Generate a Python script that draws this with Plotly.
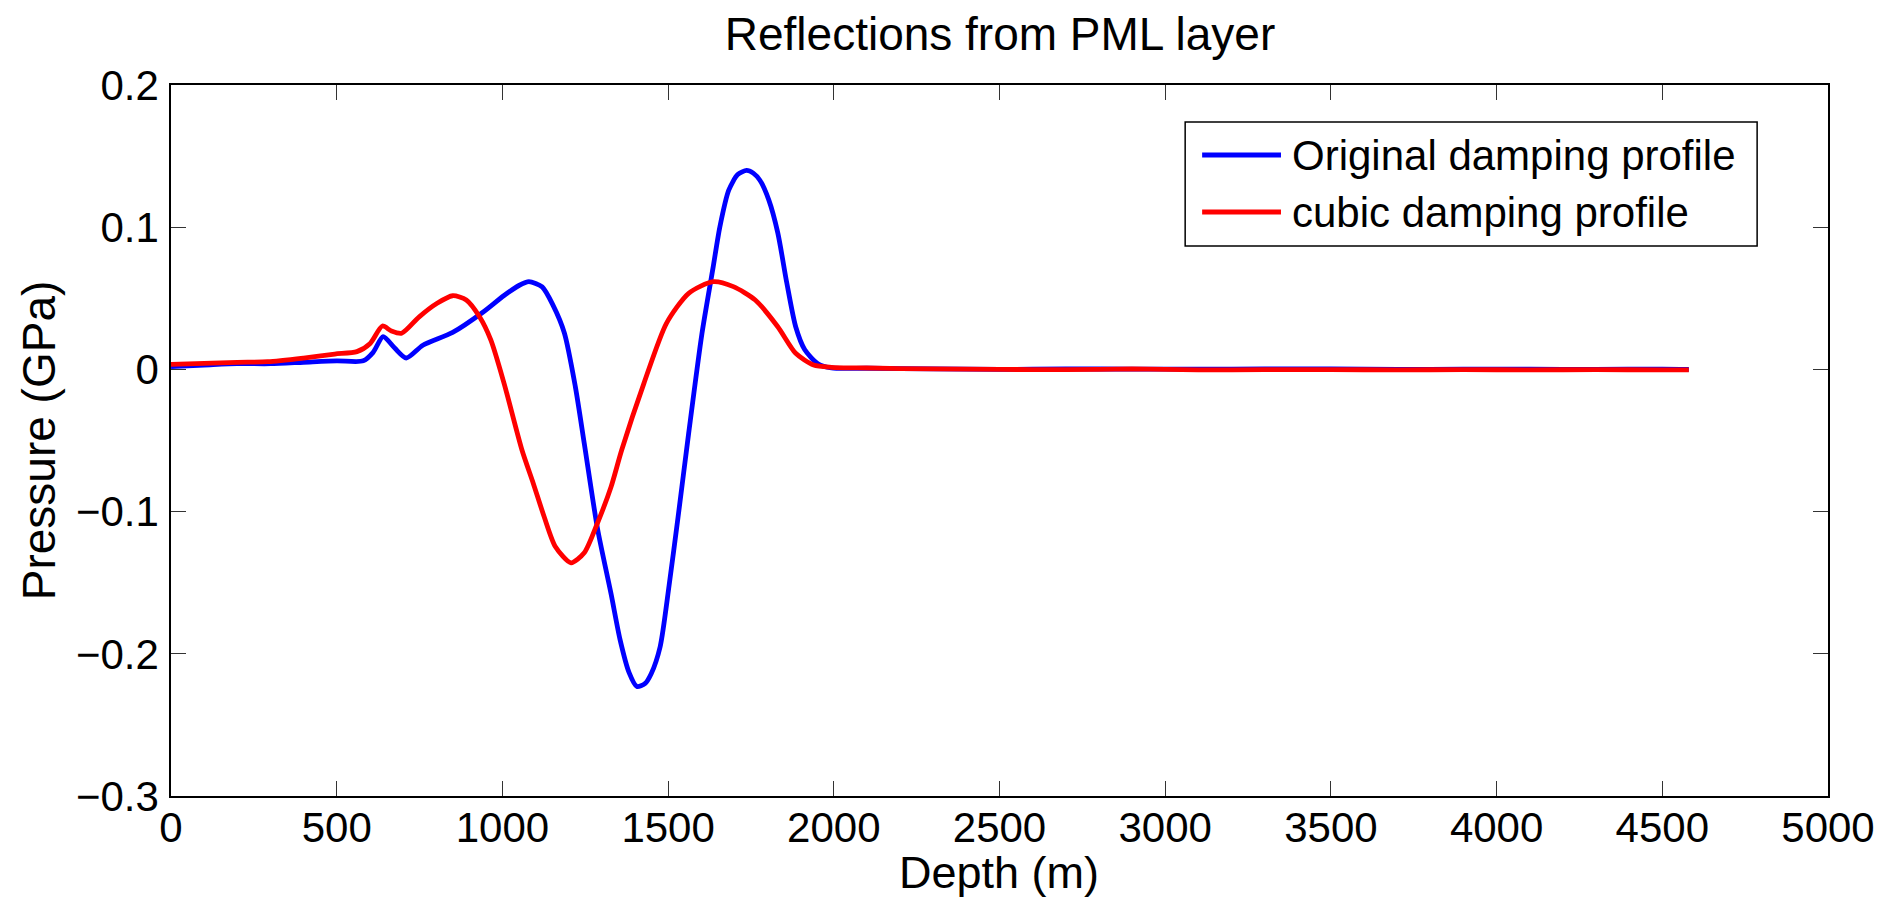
import plotly.graph_objects as go

# Pressure traces along depth for the two PML damping profiles
depth_original = [0, 100, 200, 300, 400, 500, 580, 610, 640, 675, 710, 760, 850, 940,
                  1005, 1050, 1080, 1120, 1153, 1187, 1220, 1247, 1287, 1328, 1355, 1382,
                  1406, 1430, 1449, 1476, 1503, 1530, 1562, 1602, 1636, 1656, 1683, 1710,
                  1737, 1757, 1777, 1804, 1831, 1858, 1885, 1912, 1952, 1993, 2100, 2300,
                  2500, 2700, 2900, 3100, 3300, 3500, 3700, 3900, 4100, 4300, 4500, 4580]
pressure_original = [0.002, 0.003, 0.004, 0.004, 0.005, 0.006, 0.006, 0.012, 0.023, 0.015,
                     0.008, 0.017, 0.026, 0.040, 0.052, 0.059, 0.0617, 0.058, 0.045, 0.0256,
                     -0.012, -0.052, -0.112, -0.158, -0.190, -0.213, -0.223, -0.221, -0.214,
                     -0.195, -0.152, -0.104, -0.045, 0.025, 0.072, 0.100, 0.126, 0.137,
                     0.140, 0.138, 0.133, 0.119, 0.096, 0.061, 0.030, 0.014, 0.004, 0.001,
                     0.0008, 0.0004, 0.0, 0.0003, 0.0002, 0.0001, 0.0003, 0.0004, 0.0,
                     0.0002, 0.0001, 0.0, 0.0002, 0.0]

depth_cubic = [0, 100, 200, 292, 400, 494, 561, 601, 638, 665, 696, 749, 803, 850, 891,
               931, 965, 1005, 1059, 1093, 1126, 1160, 1207, 1247, 1287, 1328, 1360, 1427,
               1495, 1562, 1636, 1697, 1763, 1831, 1885, 1939, 1993, 2100, 2300, 2500, 2700,
               2900, 3100, 3300, 3500, 3700, 3900, 4100, 4300, 4500, 4580]
pressure_cubic = [0.0036, 0.0042, 0.005, 0.0054, 0.008, 0.0108, 0.0125, 0.0183, 0.0305,
                  0.027, 0.0254, 0.037, 0.0465, 0.0518, 0.0488, 0.037, 0.0207, -0.0098,
                  -0.0567, -0.080, -0.1036, -0.1247, -0.136, -0.129, -0.108, -0.0825,
                  -0.0567, -0.0098, 0.0324, 0.0535, 0.0617, 0.0582, 0.0488, 0.030, 0.0113,
                  0.0031, 0.0015, 0.0010, 0.0003, 0.0, -0.0002, 0.0003, -0.0004, -0.0001,
                  -0.0002, -0.0003, -0.0002, -0.0003, -0.0002, -0.0003, -0.0003]

series_names = ["Original damping profile", "cubic damping profile"]
series_colors = ["#0000ff", "#ff0000"]

x_ticks = [0, 500, 1000, 1500, 2000, 2500, 3000, 3500, 4000, 4500, 5000]
y_ticks = [-0.3, -0.2, -0.1, 0, 0.1, 0.2]

FONT = "Liberation Sans, Arial, Helvetica, sans-serif"

fig = go.Figure()
for xs, ys, name, color in zip([depth_original, depth_cubic],
                               [pressure_original, pressure_cubic],
                               series_names, series_colors):
    fig.add_trace(go.Scatter(x=xs, y=ys, mode="lines", name=name,
                             line=dict(color=color, width=4.8, shape="spline", smoothing=0.7),
                             showlegend=False))

axis_common = dict(showgrid=False, zeroline=False, showline=True, linecolor="black",
                   linewidth=1.5, mirror="ticks", ticks="inside", ticklen=15,
                   tickwidth=1.3, tickcolor="#333333",
                   tickfont=dict(family=FONT, size=42, color="black"))

fig.update_layout(
    width=1887, height=900,
    margin=dict(l=171, r=56, t=85, b=104),
    paper_bgcolor="white", plot_bgcolor="white",
    font=dict(family=FONT, color="black"),
    title=dict(text="Reflections from PML layer", x=1000 / 1887, xanchor="center",
               y=1 - 34 / 900, yanchor="middle", yref="container",
               font=dict(family=FONT, size=46, color="black")),
    xaxis=dict(range=[0, 5000], tickvals=x_ticks, ticklabelstandoff=-6, **axis_common),
    yaxis=dict(range=[-0.3, 0.2], tickvals=y_ticks, ticklabelstandoff=2, **axis_common),
)

# Axis titles
fig.add_annotation(text="Depth (m)", xref="paper", yref="paper",
                   x=(1000 - 171) / 1660, y=-(872 - 796) / 711,
                   xanchor="center", yanchor="middle", showarrow=False,
                   font=dict(family=FONT, size=45, color="black"))
fig.add_annotation(text="Pressure (GPa)", xref="paper", yref="paper",
                   x=-(171 - 39) / 1660, y=(796 - 440) / 711, textangle=-90,
                   xanchor="center", yanchor="middle", showarrow=False,
                   font=dict(family=FONT, size=46, color="black"))

# Legend box with line samples
def px_x(p):
    return (p - 171) / 1660

def px_y(p):
    return (796 - p) / 711

fig.add_shape(type="rect", xref="paper", yref="paper",
              x0=px_x(1187), x1=px_x(1760), y0=px_y(246), y1=px_y(122),
              line=dict(color="black", width=1.5), fillcolor="white", layer="above")
for name, color, ly in zip(series_names, series_colors, [155, 212]):
    fig.add_shape(type="line", xref="paper", yref="paper",
                  x0=px_x(1204), x1=px_x(1283), y0=px_y(ly), y1=px_y(ly),
                  line=dict(color=color, width=4.8), layer="above")
    fig.add_annotation(text=name, xref="paper", yref="paper",
                       x=px_x(1292), y=px_y(ly), xanchor="left", yanchor="middle",
                       showarrow=False, font=dict(family=FONT, size=42, color="black"))

fig.write_html("out.html")
